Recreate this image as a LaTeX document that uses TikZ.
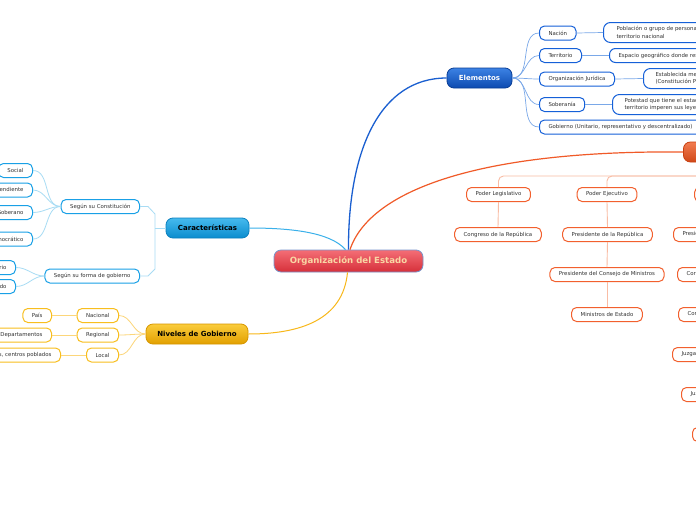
\documentclass[tikz,border=0pt]{standalone}
\usepackage{fontspec}
\setmainfont{DejaVu Sans}
\definecolor{txt}{HTML}{333333}
\definecolor{eb}{HTML}{1560D8}
\definecolor{el}{HTML}{7AA8E8}
\definecolor{cb}{HTML}{19A0E6}
\definecolor{cl}{HTML}{A8DCF4}
\definecolor{nb}{HTML}{F8BE1E}
\definecolor{nl}{HTML}{FCD67A}
\definecolor{ob}{HTML}{F2602E}
\definecolor{ol}{HTML}{F9BCA4}
\definecolor{peach}{HTML}{F9D7A4}
\begin{document}
\begin{tikzpicture}[x=1pt,y=-1pt,
  leafbox/.style={rounded corners=5pt, fill=white, line width=1pt, minimum height=14pt,
    inner xsep=9pt, inner ysep=0pt, font=\fontsize{5.4}{7.5}\selectfont, text=txt},
  eleaf/.style={leafbox, draw=eb},
  cleaf/.style={leafbox, draw=cb},
  nleaf/.style={leafbox, draw=nb},
  oleaf/.style={leafbox, draw=ob},
  tallbox/.style={eleaf, rounded corners=7pt, minimum height=20pt, align=left, anchor=west},
  mainbox/.style={rounded corners=7pt, minimum height=20pt, inner sep=0pt, line width=0.8pt,
    font=\fontsize{7}{8}\selectfont\bfseries},
  rootst/.style={mainbox, minimum width=149pt, minimum height=22pt, top color=red!45!white!90!red, 
    top color={rgb,255:red,244;green,110;blue,118}, bottom color={rgb,255:red,214;green,48;blue,58},
    draw={rgb,255:red,120;green,150;blue,205}, text=peach, font=\fontsize{8.6}{10}\selectfont\bfseries},
  elemst/.style={mainbox, minimum width=65pt, top color={rgb,255:red,60;green,130;blue,228},
    bottom color={rgb,255:red,12;green,74;blue,176}, draw={rgb,255:red,10;green,62;blue,150}, text=white},
  carst/.style={mainbox, minimum width=83pt, top color={rgb,255:red,70;green,186;blue,238},
    bottom color={rgb,255:red,10;green,140;blue,206}, draw={rgb,255:red,12;green,128;blue,190}, text=black},
  nivst/.style={mainbox, minimum width=102pt, top color={rgb,255:red,250;green,204;blue,60},
    bottom color={rgb,255:red,226;green,160;blue,0}, draw={rgb,255:red,214;green,150;blue,0}, text=black},
  podst/.style={mainbox, inner xsep=18pt, top color={rgb,255:red,242;green,124;blue,80},
    bottom color={rgb,255:red,208;green,72;blue,24}, draw={rgb,255:red,200;green,64;blue,16}, text=white},
  econ/.style={draw={rgb,255:red,26;green,95;blue,208}, line width=1.3pt},
  ccon/.style={draw={rgb,255:red,58;green,176;blue,234}, line width=1pt},
  ncon/.style={draw={rgb,255:red,248;green,184;blue,26}, line width=1pt},
  ocon/.style={draw={rgb,255:red,240;green,90;blue,40}, line width=1.2pt},
  eline/.style={draw=el, line width=0.7pt},
  cline/.style={draw=cl, line width=0.8pt},
  nline/.style={draw=nl, line width=0.8pt},
  oline/.style={draw=ol, line width=0.9pt}
]
\useasboundingbox (0,0) rectangle (696,520);
\clip (0,0) rectangle (696,520);
\fill[white] (0,0) rectangle (696,520);

% main nodes
\node[rootst] (root) at (348.5,261) {Organización del Estado};
\node[elemst] (elem) at (479.5,78) {Elementos};
\node[carst] (car) at (207.5,228) {Características};
\node[nivst] (niv) at (197,334) {Niveles de Gobierno};
\node[podst, anchor=west] (pod) at (683,152) {Poderes del Estado};

% main connectors
\draw[econ] (root.north) .. controls (348,150) and (380,78) .. (elem.west);
\draw[ocon] ([xshift=1.5pt]root.north) .. controls (370,190) and (480,150) .. (pod.west);
\draw[ccon] ([xshift=-3pt]root.north) .. controls (330,232) and (290,228) .. (car.east);
\draw[ncon] ([xshift=-1pt]root.south) .. controls (343,320) and (300,334) .. (niv.east);

% Elementos
\node[eleaf, anchor=west] (nac) at (539,33) {Nación};
\node[eleaf, anchor=west] (ter) at (539,55.5) {Territorio};
\node[eleaf, anchor=west] (org) at (539,79) {Organización Jurídica};
\node[eleaf, anchor=west] (sob) at (539,104.5) {Soberanía};
\node[eleaf, anchor=west] (gob) at (539,127) {Gobierno (Unitario, representativo y descentralizado)};
\node[tallbox, inner xsep=13pt] (pob) at (603,32.5) {Población o grupo de personas que habitan el\\territorio nacional};
\node[eleaf, anchor=west, rounded corners=6pt] (esp) at (609,55.5) {Espacio geográfico donde reside la población};
\node[tallbox, inner xsep=12pt] (est) at (643,78.5) {Establecida mediante la Carta Magna\\(Constitución Política del Perú)};
\node[tallbox, inner xsep=12pt] (pot) at (612,104.5) {Potestad que tiene el estado para que en su\\territorio imperen sus leyes};
\foreach \c in {nac,ter,org,sob,gob}
  \draw[eline] (elem.east) to[out=0,in=180] (\c.west);
\draw[eline] (nac.east) -- (pob.west);
\draw[eline] (ter.east) -- (esp.west);
\draw[eline] (org.east) -- (est.west);
\draw[eline] (sob.east) -- (pot.west);

% Caracteristicas
\node[cleaf, anchor=east] (cons) at (140,206.5) {Según su Constitución};
\node[cleaf, anchor=east] (form) at (140,276) {Según su forma de gobierno};
\coordinate (bk) at (155,228);
\coordinate (bkt) at (155,214);
\coordinate (bkb) at (155,269);
\draw[cline] (car.west) -- (bk);
\draw[cline] (cons.east) -- ++(8,0) -- (bkt) -- (bkb) -- ++(-7,7) -- (form.east);
\node[cleaf, anchor=east] (soc) at (33,170.5) {Social};
\node[cleaf, anchor=east] (ind) at (33,190) {Independiente};
\node[cleaf, anchor=east] (sobr) at (33,212.5) {Soberano};
\node[cleaf, anchor=east] (dem) at (33,239) {Democrático};
\node[cleaf, anchor=east] (uni) at (16,267.5) {Unitario};
\node[cleaf, anchor=east] (des) at (16,286.5) {Descentralizado};
\foreach \c in {soc,ind,sobr,dem}
  \draw[cline] (cons.west) to[out=180,in=0] (\c.east);
\foreach \c in {uni,des}
  \draw[cline] (form.west) to[out=180,in=0] (\c.east);

% Niveles de Gobierno
\node[nleaf, anchor=east] (nacn) at (119,315.5) {Nacional};
\node[nleaf, anchor=east] (reg) at (119,335) {Regional};
\node[nleaf, anchor=east] (loc) at (119,355) {Local};
\node[nleaf, anchor=east] (pais) at (52,315.5) {País};
\node[nleaf, anchor=east] (dep) at (52,335) {Departamentos};
\node[nleaf, anchor=east] (prov) at (61,355) {Provincias, distritos, centros poblados};
\foreach \c in {nacn,reg,loc}
  \draw[nline] (niv.west) to[out=180,in=0] (\c.east);
\draw[nline] (nacn.west) -- (pais.east);
\draw[nline] (reg.west) -- (dep.east);
\draw[nline] (loc.west) -- (prov.east);

% Poderes del Estado
\node[oleaf] (leg) at (498.5,194.5) {Poder Legislativo};
\node[oleaf] (eje) at (607,194.5) {Poder Ejecutivo};
\node[oleaf, anchor=west] (jud) at (694,194.5) {Poder Judicial};
\node[oleaf] (cong) at (498,234.5) {Congreso de la República};
\node[oleaf] (pres) at (607.5,234.5) {Presidente de la República};
\node[oleaf] (pcm) at (607,274.5) {Presidente del Consejo de Ministros};
\node[oleaf] (min) at (607,314.5) {Ministros de Estado};
\node[oleaf, anchor=west] (j1) at (673,234.5) {Presidente de la Corte Suprema};
\node[oleaf, anchor=west] (j2) at (677,274.5) {Corte Suprema de Justicia};
\node[oleaf, anchor=west] (j3) at (678,314.5) {Cortes Superiores de Justicia};
\node[oleaf, anchor=west] (j4) at (672,354.5) {Juzgados Especializados y Mixtos};
\node[oleaf, anchor=west] (j5) at (681,394.5) {Juzgados de Paz Letrados};
\node[oleaf, anchor=west] (j6) at (692,434.5) {Juzgados de Paz};
\coordinate (bus) at (733,176);
\draw[oline] (pod.south) -- (bus);
\draw[oline, rounded corners=5pt] (leg.north) |- (bus);
\draw[oline, rounded corners=5pt] (eje.north) |- (bus);
\draw[oline, rounded corners=5pt] (jud.north) |- (bus);
\draw[oline] (leg.south) -- (cong.north);
\draw[oline] (eje.south) -- (pres.north);
\draw[oline] (pres.south) -- (pcm.north);
\draw[oline] (pcm.south) -- (min.north);
\draw[oline] (jud.south) -- (j1.north);
\draw[oline] (j1.south) -- (j2.north);
\draw[oline] (j2.south) -- (j3.north);
\draw[oline] (j3.south) -- (j4.north);
\draw[oline] (j4.south) -- (j5.north);
\draw[oline] (j5.south) -- (j6.north);
\end{tikzpicture}
\end{document}
